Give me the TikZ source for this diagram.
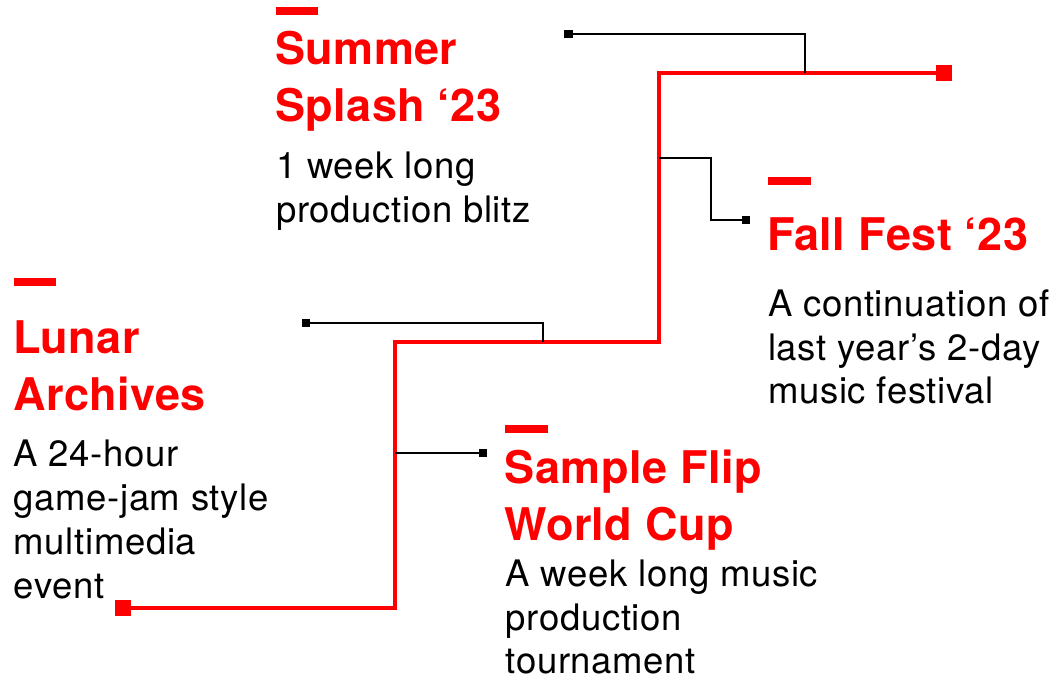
\documentclass[tikz,border=0pt]{standalone}
\usepackage{fontspec}
\setmainfont{TeX Gyre Heros}
\newfontfamily\titlefont[LetterSpace=1.0]{TeX Gyre Heros}
\newfontfamily\bodyfont[LetterSpace=1.8]{TeX Gyre Heros}
\definecolor{accent}{RGB}{255,0,0}
\tikzset{
  title/.style={anchor=base west,inner sep=0pt,text=accent,font=\titlefont\fontsize{45}{54}\selectfont\bfseries},
  body/.style={anchor=base west,inner sep=0pt,text=black,font=\bodyfont\fontsize{36.5}{44}\selectfont},
  dashbar/.style={fill=accent,draw=none,minimum width=42.5pt,minimum height=7.5pt,inner sep=0pt,anchor=west},
  redsq/.style={fill=accent,draw=none,minimum size=16pt,inner sep=0pt},
  blksq/.style={fill=black,draw=none,minimum size=8.5pt,inner sep=0pt},
  redline/.style={draw=accent,line width=4pt,line join=miter},
  blkline/.style={draw=black,line width=1.7pt,line join=miter}
}
\begin{document}
\begin{tikzpicture}[x=1pt,y=-1pt]
\useasboundingbox[fill=white] (0,0) rectangle (1056,679);

% corner coordinates of the red staircase
\coordinate (r1) at (395,608);
\coordinate (r2) at (395,342);
\coordinate (r3) at (659,342);
\coordinate (r4) at (659,73);
% connector joints
\coordinate (jS) at (805,73);
\coordinate (jSc) at (805,34);
\coordinate (jF) at (659,158);
\coordinate (jFa) at (711,158);
\coordinate (jFb) at (711,220);
\coordinate (jL) at (543,342);
\coordinate (jLc) at (543,323);
\coordinate (jW) at (395,453);

% end squares
\node[redsq] (sqStart) at (123,608) {};
\node[redsq] (sqEnd) at (943.5,73) {};
\node[blksq] (bS) at (568.5,34) {};
\node[blksq] (bF) at (746,220) {};
\node[blksq] (bL) at (306,323) {};
\node[blksq] (bW) at (483,453) {};

% red staircase
\draw[redline] (sqStart.center) -- (r1) -- (r2) -- (r3) -- (r4) -- (sqEnd.center);

% black connectors
\draw[blkline] (jS) -- (jSc) -- (bS.center);
\draw[blkline] (jF) -- (jFa) -- (jFb) -- (bF.center);
\draw[blkline] (jL) -- (jLc) -- (bL.center);
\draw[blkline] (jW) -- (bW.center);

% redraw squares on top
\node[redsq] at (sqStart) {};
\node[redsq] at (sqEnd) {};
\node[blksq] at (bS) {};
\node[blksq] at (bF) {};
\node[blksq] at (bL) {};
\node[blksq] at (bW) {};

% Summer Splash
\node[dashbar] (dS) at (275.5,11) {};
\node[title] (tS1) at (275,65) {Summer};
\node[title] (tS2) at (275,121.5) {Splash ‘23};
\node[body] (bS1) at (276,178.5) {1 week long};
\node[body] (bS2) at (276,222) {production blitz};

% Fall Fest
\node[dashbar] (dF) at (768,181) {};
\node[title] (tF1) at (767,250) {Fall Fest ‘23};
\node[body] (bF1) at (768,316) {A continuation of};
\node[body] (bF2) at (768,360) {last year’s 2-day};
\node[body] (bF3) at (768,403.5) {music festival};

% Lunar Archives
\node[dashbar] (dL) at (13.5,282) {};
\node[title] (tL1) at (13,353.5) {Lunar};
\node[title] (tL2) at (13,410) {Archives};
\node[body] (bL1) at (13.5,466) {A 24-hour};
\node[body] (bL2) at (13.5,510) {game-jam style};
\node[body] (bL3) at (13.5,554.5) {multimedia};
\node[body] (bL4) at (13.5,598) {event};

% Sample Flip World Cup
\node[dashbar] (dW) at (505,429) {};
\node[title] (tW1) at (504.5,483) {Sample Flip};
\node[title] (tW2) at (504.5,540) {World Cup};
\node[body] (bW1) at (505.5,586) {A week long music};
\node[body] (bW2) at (505.5,630.5) {production};
\node[body] (bW3) at (505.5,673) {tournament};
\end{tikzpicture}
\end{document}
